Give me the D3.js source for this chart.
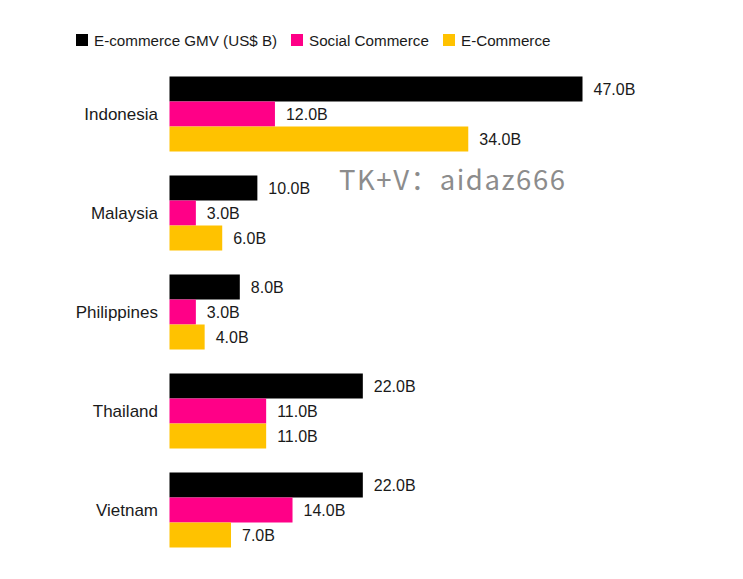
<!DOCTYPE html>
<html><head><meta charset="utf-8">
<script src="https://cdn.jsdelivr.net/npm/d3@7"></script>
<style>body{margin:0;background:#fff;} svg{display:block;}</style>
</head><body>
<svg id="c" width="743" height="579"></svg>
<script>
const categories = ["Indonesia","Malaysia","Philippines","Thailand","Vietnam"];
const seriesNames = ["E-commerce GMV (US$ B)","Social Commerce","E-Commerce"];
const gmv = [47, 10, 8, 22, 22];
const social = [12, 3, 3, 11, 14];
const ecom = [34, 6, 4, 11, 7];
const colors = ["#000000","#ff0087","#ffc200"];
const seriesValues = [gmv, social, ecom];

const svg = d3.select("#c");
const font = "'Liberation Sans', Arial, Helvetica, sans-serif";

const x = d3.scaleLinear().domain([0, 47]).range([169.5, 582.5]);
const y = d3.scaleBand().domain(categories).range([64.5, 559.5]).paddingInner(24/99).paddingOuter(12/99);
const ySub = d3.scaleBand().domain(d3.range(3)).range([0, y.bandwidth()]);

const g = svg.append("g");
categories.forEach((c, ci) => {
  const gg = g.append("g").attr("transform", `translate(0,${y(c)})`);
  seriesValues.forEach((vals, si) => {
    gg.append("rect")
      .attr("x", x(0)).attr("y", ySub(si))
      .attr("width", x(vals[ci]) - x(0)).attr("height", ySub.bandwidth())
      .attr("fill", colors[si]);
    gg.append("text")
      .attr("x", x(vals[ci]) + 11).attr("y", ySub(si) + ySub.bandwidth()/2)
      .attr("dy", "0.36em")
      .attr("font-family", font).attr("font-size", 16).attr("fill", "#1a1a1a")
      .text(d3.format(".1f")(vals[ci]) + "B");
  });
  gg.append("text")
    .attr("x", 158).attr("y", y.bandwidth()/2).attr("dy", "0.36em")
    .attr("text-anchor", "end")
    .attr("font-family", font).attr("font-size", 17).attr("fill", "#1a1a1a")
    .text(c);
});

// legend
const legX = [76, 291, 443];
seriesNames.forEach((n, i) => {
  svg.append("rect").attr("x", legX[i]).attr("y", 34).attr("width", 12).attr("height", 12).attr("fill", colors[i]);
  svg.append("text").attr("x", legX[i] + 18).attr("y", 40.5).attr("dy", "0.36em")
    .attr("font-family", font).attr("font-size", 15.2).attr("fill", "#1a1a1a").text(n);
});

// watermark
svg.append("text").attr("x", 339).attr("y", 190)
  .attr("font-family", "'Noto Sans CJK SC','Noto Sans', sans-serif").attr("font-size", 27.5)
  .attr("textLength", 226).attr("lengthAdjust", "spacing")
  .attr("fill", "#8c8c8c").text("TK+V：aidaz666");
</script>
</body></html>
